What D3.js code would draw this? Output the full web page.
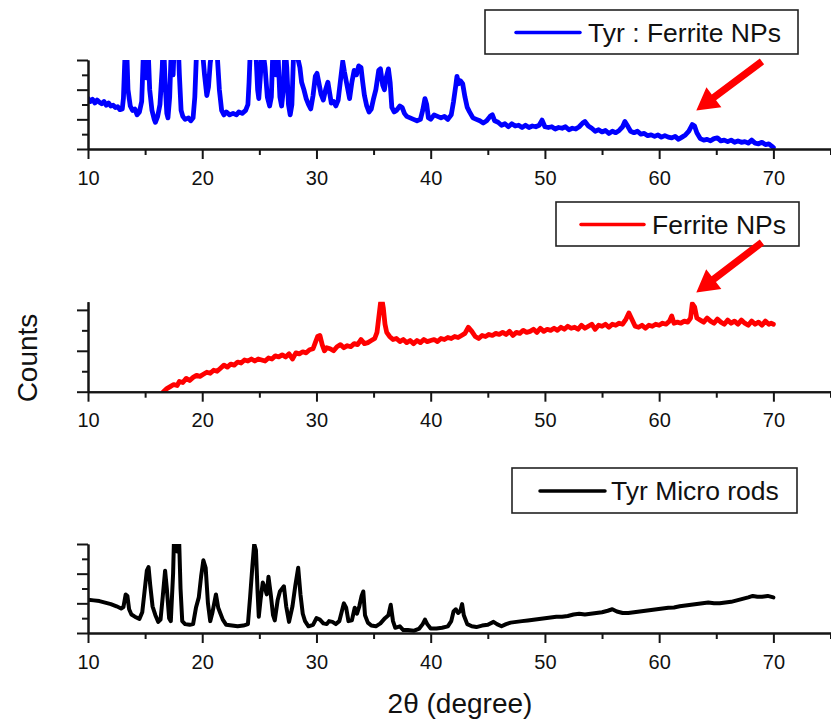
<!DOCTYPE html>
<html>
<head>
<meta charset="utf-8">
<script src="https://cdn.jsdelivr.net/npm/d3@7"></script>
<style>
  body { margin: 0; background: #fff; }
  svg { display: block; }
  text { font-family: "Liberation Sans", Arial, Helvetica, sans-serif; fill: #111; }
</style>
</head>
<body>
<svg id="chart" width="831" height="726"></svg>
<script>
// XRD patterns: [2θ (degree), counts in arbitrary units]
const tyrFerrite = [
  [10.0,3.4],[10.2,3.2],[10.4,3.35],[10.6,3.1],[10.8,3.3],[11.0,3.15],[11.2,3.05],[11.4,3.2],[11.6,2.95],[11.8,3.1],
  [12.0,2.9],[12.2,2.95],[12.4,2.8],[12.6,2.85],[12.8,2.65],[13.0,2.7],[13.1,3.4],[13.2,5.5],[13.3,7.5],[13.4,6.5],
  [13.5,4.0],[13.7,2.9],[13.9,2.6],[14.1,2.7],[14.3,2.3],[14.5,2.5],[14.7,3.2],[14.85,6.5],[15.0,5.2],[15.1,4.8],
  [15.25,7.0],[15.4,4.0],[15.6,2.6],[15.8,2.0],[15.9,1.8],[16.1,2.2],[16.3,3.0],[16.5,5.5],[16.6,7.5],[16.75,4.5],
  [16.9,2.4],[17.0,2.1],[17.15,3.5],[17.3,7.0],[17.45,5.0],[17.6,8.0],[17.8,9.0],[18.0,5.0],[18.15,2.6],[18.3,2.2],
  [18.5,2.0],[18.8,2.1],[19.0,1.9],[19.2,2.1],[19.35,3.5],[19.5,6.5],[19.8,7.0],[20.0,6.8],[20.2,5.0],[20.4,3.6],
  [20.55,4.2],[20.7,5.8],[20.9,6.8],[21.1,7.0],[21.3,6.5],[21.5,4.0],[21.7,2.6],[21.9,2.3],[22.1,2.5],[22.4,2.3],
  [22.7,2.4],[23.0,2.3],[23.2,2.5],[23.5,2.4],[23.8,2.6],[24.0,3.0],[24.1,4.5],[24.25,7.5],[24.5,8.0],[24.7,6.5],
  [24.85,4.0],[24.95,3.4],[25.1,5.0],[25.25,7.0],[25.5,5.5],[25.7,3.5],[25.9,2.9],[26.05,3.5],[26.2,7.0],[26.45,5.0],
  [26.6,7.0],[26.8,3.5],[26.95,2.9],[27.1,4.0],[27.25,7.0],[27.4,5.5],[27.55,3.0],[27.7,2.3],[27.85,3.0],[28.0,6.5],
  [28.2,8.0],[28.4,6.0],[28.55,5.5],[28.7,4.5],[28.9,4.0],[29.1,3.4],[29.3,3.0],[29.5,2.7],[29.7,3.6],[29.9,4.9],
  [30.05,5.1],[30.2,4.5],[30.4,3.7],[30.6,3.3],[30.8,4.0],[31.0,4.5],[31.15,3.8],[31.3,3.1],[31.5,3.2],[31.7,2.9],
  [31.9,3.3],[32.1,4.6],[32.3,5.9],[32.45,5.2],[32.6,4.6],[32.75,4.0],[32.9,3.4],[33.1,4.5],[33.3,5.3],[33.5,5.0],
  [33.7,5.6],[33.9,5.5],[34.05,4.5],[34.2,3.6],[34.4,2.9],[34.6,2.5],[34.8,2.7],[35.0,3.4],[35.2,4.0],[35.45,5.3],
  [35.6,5.4],[35.8,4.3],[35.95,4.0],[36.1,4.8],[36.3,5.4],[36.45,4.5],[36.6,2.8],[36.8,2.5],[37.0,2.6],[37.3,2.9],
  [37.5,2.8],[37.7,2.4],[37.9,2.2],[38.2,2.1],[38.5,2.0],[38.8,1.9],[39.1,2.0],[39.3,2.6],[39.5,3.4],[39.65,3.0],
  [39.8,2.1],[40.0,2.0],[40.3,2.3],[40.6,2.2],[40.9,2.1],[41.2,2.2],[41.5,2.0],[41.8,2.3],[42.0,3.2],[42.2,4.3],
  [42.3,4.9],[42.45,4.4],[42.6,4.6],[42.8,4.4],[43.0,3.5],[43.2,2.8],[43.4,2.5],[43.7,2.1],[44.0,2.0],[44.3,1.9],
  [44.6,1.75],[44.9,1.9],[45.2,2.2],[45.4,2.3],[45.6,1.9],[45.9,1.8],[46.2,1.6],[46.5,1.7],[46.8,1.5],[47.1,1.7],
  [47.4,1.55],[47.7,1.6],[48.0,1.45],[48.3,1.6],[48.6,1.45],[48.9,1.55],[49.2,1.5],[49.5,1.6],[49.75,1.95],[50.0,1.5],
  [50.3,1.45],[50.6,1.5],[50.9,1.35],[51.2,1.45],[51.5,1.4],[51.8,1.5],[52.1,1.3],[52.4,1.4],[52.7,1.35],[53.0,1.5],
  [53.3,1.75],[53.5,1.85],[53.8,1.55],[54.1,1.4],[54.4,1.2],[54.7,1.3],[55.0,1.15],[55.3,1.25],[55.6,1.05],[55.9,1.2],
  [56.2,1.1],[56.5,1.25],[56.8,1.5],[57.0,1.85],[57.2,1.6],[57.5,1.2],[57.8,1.1],[58.1,1.2],[58.4,1.0],[58.7,1.05],
  [59.0,0.9],[59.3,0.95],[59.6,0.85],[59.9,0.95],[60.2,0.8],[60.5,0.9],[60.8,0.8],[61.1,0.75],[61.4,0.85],[61.7,0.65],
  [62.0,0.8],[62.3,0.95],[62.6,1.2],[62.9,1.65],[63.1,1.55],[63.3,1.1],[63.6,0.7],[63.9,0.6],[64.2,0.65],[64.5,0.55],
  [64.8,0.7],[65.1,0.75],[65.4,0.55],[65.7,0.6],[66.0,0.5],[66.3,0.6],[66.6,0.45],[66.9,0.55],[67.2,0.45],[67.5,0.5],
  [67.8,0.4],[68.1,0.6],[68.4,0.4],[68.7,0.35],[69.0,0.45],[69.3,0.3],[69.6,0.35],[69.85,0.2],[70.0,0.1]
];

const ferriteNPs = [
  [16.6,0.0],[16.9,0.15],[17.2,0.25],[17.5,0.35],[17.8,0.3],[18.0,0.5],[18.3,0.45],[18.6,0.65],[18.9,0.55],[19.2,0.7],
  [19.5,0.8],[19.8,0.75],[20.1,0.85],[20.4,0.95],[20.7,0.9],[21.0,1.05],[21.3,1.0],[21.6,1.15],[21.9,1.3],[22.2,1.2],
  [22.5,1.35],[22.8,1.3],[23.1,1.45],[23.4,1.4],[23.7,1.55],[24.0,1.5],[24.3,1.6],[24.6,1.5],[24.9,1.6],[25.2,1.55],
  [25.5,1.5],[25.8,1.65],[26.1,1.6],[26.4,1.75],[26.7,1.7],[27.0,1.8],[27.3,1.7],[27.6,1.85],[27.9,1.6],[28.2,1.9],
  [28.5,1.85],[28.8,1.95],[29.1,1.9],[29.4,2.05],[29.7,2.1],[29.9,2.4],[30.1,2.7],[30.3,2.75],[30.5,2.3],[30.7,2.0],
  [30.9,2.15],[31.2,2.1],[31.5,2.0],[31.8,2.2],[32.1,2.3],[32.4,2.15],[32.7,2.25],[33.0,2.2],[33.3,2.35],[33.6,2.3],
  [33.9,2.55],[34.2,2.35],[34.5,2.4],[34.8,2.5],[35.1,2.6],[35.3,2.9],[35.45,3.6],[35.6,4.3],[35.7,4.6],[35.85,4.1],
  [36.0,3.3],[36.15,2.9],[36.4,2.7],[36.7,2.55],[37.0,2.6],[37.3,2.45],[37.6,2.55],[37.9,2.4],[38.2,2.5],[38.5,2.35],
  [38.8,2.5],[39.1,2.4],[39.4,2.55],[39.7,2.45],[40.0,2.5],[40.3,2.55],[40.6,2.45],[40.9,2.6],[41.2,2.55],[41.5,2.65],
  [41.8,2.6],[42.1,2.7],[42.4,2.65],[42.7,2.75],[43.0,2.85],[43.3,3.15],[43.6,2.95],[43.9,2.7],[44.2,2.6],[44.5,2.75],
  [44.8,2.7],[45.1,2.8],[45.4,2.75],[45.7,2.85],[46.0,2.8],[46.3,2.9],[46.6,2.8],[46.9,2.95],[47.2,2.75],[47.5,2.9],
  [47.8,2.85],[48.1,3.0],[48.4,2.9],[48.7,2.95],[49.0,3.05],[49.3,2.9],[49.6,3.1],[49.9,2.95],[50.2,3.05],[50.5,3.0],
  [50.8,3.1],[51.1,3.0],[51.4,3.15],[51.7,3.05],[52.0,3.2],[52.3,3.1],[52.6,3.15],[52.9,3.05],[53.2,3.25],[53.5,3.1],
  [53.8,3.2],[54.1,3.3],[54.4,3.05],[54.7,3.25],[55.0,3.2],[55.3,3.3],[55.6,3.15],[55.9,3.3],[56.2,3.25],[56.5,3.35],
  [56.8,3.3],[57.1,3.55],[57.35,3.85],[57.6,3.55],[57.9,3.2],[58.2,3.15],[58.5,3.25],[58.8,3.1],[59.1,3.25],[59.4,3.2],
  [59.7,3.3],[60.0,3.25],[60.3,3.35],[60.6,3.3],[60.9,3.45],[61.1,3.7],[61.3,3.35],[61.6,3.4],[61.9,3.35],[62.2,3.45],
  [62.5,3.4],[62.75,3.6],[62.9,4.3],[63.1,4.15],[63.3,3.6],[63.6,3.5],[63.9,3.4],[64.2,3.6],[64.5,3.45],[64.8,3.35],
  [65.1,3.55],[65.4,3.4],[65.7,3.3],[66.0,3.5],[66.3,3.35],[66.6,3.45],[66.9,3.3],[67.2,3.5],[67.5,3.35],[67.8,3.25],
  [68.1,3.45],[68.4,3.3],[68.7,3.4],[69.0,3.25],[69.3,3.45],[69.6,3.3],[69.8,3.35],[70.0,3.3]
];

const tyrRods = [
  [10.0,2.25],[10.5,2.2],[11.0,2.15],[11.5,2.05],[12.0,1.95],[12.5,1.8],[12.9,1.65],[13.1,1.75],[13.3,2.6],[13.45,2.5],
  [13.6,1.6],[13.8,1.25],[14.1,1.1],[14.5,0.95],[14.75,1.4],[14.95,2.8],[15.15,4.2],[15.3,4.45],[15.45,3.2],[15.65,1.8],
  [15.9,1.2],[16.15,0.75],[16.35,0.9],[16.55,2.5],[16.75,4.2],[16.9,3.0],[17.1,1.0],[17.25,0.8],[17.45,4.0],[17.55,7.0],
  [17.7,6.5],[17.8,5.5],[17.95,7.0],[18.1,3.0],[18.25,0.8],[18.5,0.6],[18.9,0.55],[19.2,0.6],[19.45,1.7],[19.7,2.4],
  [19.9,3.8],[20.1,4.9],[20.3,4.4],[20.5,2.0],[20.7,0.8],[20.9,1.4],[21.2,2.6],[21.4,1.7],[21.6,1.3],[21.8,0.9],
  [22.1,0.55],[22.6,0.5],[23.1,0.45],[23.6,0.5],[24.0,0.6],[24.2,2.5],[24.4,4.6],[24.55,6.0],[24.7,5.6],[24.85,2.7],
  [24.95,1.1],[25.1,2.2],[25.3,3.4],[25.5,3.0],[25.65,2.6],[25.8,3.8],[26.0,2.6],[26.2,1.2],[26.35,0.85],[26.6,2.2],
  [26.8,2.8],[27.0,3.0],[27.15,3.15],[27.35,1.8],[27.6,0.75],[27.9,1.8],[28.15,3.2],[28.4,4.4],[28.6,2.6],[28.8,1.3],
  [29.0,0.8],[29.3,0.45],[29.7,0.55],[30.0,1.0],[30.3,0.9],[30.6,0.65],[30.9,0.6],[31.1,0.8],[31.4,0.75],[31.7,0.6],
  [32.0,0.8],[32.2,1.4],[32.4,2.0],[32.6,1.7],[32.8,0.8],[33.1,0.85],[33.35,1.7],[33.55,1.3],[33.75,1.8],[33.95,2.5],
  [34.1,2.8],[34.25,1.2],[34.5,0.7],[34.8,0.5],[35.2,0.45],[35.6,0.65],[36.0,1.0],[36.3,1.2],[36.5,1.9],[36.7,0.8],
  [36.9,0.35],[37.3,0.45],[37.6,0.2],[38.0,0.2],[38.5,0.15],[39.0,0.3],[39.3,0.6],[39.5,0.9],[39.7,0.6],[40.0,0.3],
  [40.5,0.3],[41.0,0.35],[41.5,0.45],[41.8,0.8],[42.0,1.45],[42.2,1.6],[42.4,1.35],[42.6,1.5],[42.75,1.95],[42.9,1.2],
  [43.2,0.6],[43.6,0.45],[44.0,0.4],[44.5,0.5],[45.0,0.55],[45.5,0.75],[45.8,0.6],[46.2,0.45],[46.6,0.6],[47.0,0.7],
  [47.5,0.75],[48.0,0.8],[48.5,0.85],[49.0,0.9],[49.5,0.95],[50.0,1.0],[50.5,1.05],[51.0,1.1],[51.5,1.1],[52.0,1.15],
  [52.5,1.25],[53.0,1.3],[53.5,1.25],[54.0,1.3],[54.5,1.35],[55.0,1.4],[55.5,1.5],[55.9,1.6],[56.3,1.45],[56.8,1.35],
  [57.3,1.35],[57.8,1.4],[58.3,1.45],[58.8,1.5],[59.3,1.55],[59.8,1.6],[60.3,1.65],[60.8,1.7],[61.3,1.72],[61.8,1.8],
  [62.3,1.85],[62.8,1.9],[63.3,1.95],[63.8,2.0],[64.3,2.05],[64.8,2.0],[65.3,2.0],[65.8,2.05],[66.3,2.1],[66.8,2.2],
  [67.3,2.3],[67.8,2.4],[68.2,2.5],[68.6,2.45],[69.0,2.45],[69.5,2.5],[70.0,2.4]
];

const seriesData   = [tyrFerrite, ferriteNPs, tyrRods];
const seriesNames  = ["Tyr : Ferrite NPs", "Ferrite NPs", "Tyr Micro rods"];
const seriesColors = ["#0000ff", "#ff0000", "#000000"];

const xDomain      = [10, 75];
const xMajorTicks  = [10, 20, 30, 40, 50, 60, 70];
const xMinorTicks  = [15, 25, 35, 45, 55, 65, 75];
const yDomains     = [[0, 6], [0, 4.4], [0, 6]];
const yTickValues  = [[0, 1, 2, 3, 4, 5, 6], [0, 1, 2, 3, 4], [0, 1, 2, 3, 4, 5, 6]];

// arrows marking the ferrite reflection near 63°, in data coordinates
const arrowMarks = [
  { panel: 0, tip: [63.25, 2.6],  tail: [69.0, 5.9] },
  { panel: 1, tip: [63.25, 4.85], tail: [69.0, 7.3] }
];

// ---- layout ----
const panelBoxes = [
  { top: 60,    bottom: 149 },
  { top: 301.7, bottom: 391.7 },
  { top: 544,   bottom: 633 }
];
const traceWidths = [4.8, 4.8, 4.0];
const legendBoxes = [
  { x: 485, y: 10,  w: 313, h: 44, lx1: 516, lx2: 580, tx: 588 },
  { x: 556, y: 202, w: 243, h: 44, lx1: 581, lx2: 644, tx: 652 },
  { x: 512, y: 468, w: 285, h: 45, lx1: 540, lx2: 605, tx: 611 }
];
const axisColor = "#151515";

const svg = d3.select("#chart");
const x = d3.scaleLinear().domain(xDomain).range([88, 830.5]);

const defs = svg.append("defs");

panelBoxes.forEach((box, i) => {
  const y = d3.scaleLinear().domain(yDomains[i]).range([box.bottom, box.top]);
  const g = svg.append("g").attr("class", "panel-" + i);

  // clip the trace to the plotting window
  const clipId = "clip-" + i;
  defs.append("clipPath").attr("id", clipId)
    .append("rect")
    .attr("x", x(xDomain[0])).attr("y", box.top)
    .attr("width", x(xDomain[1]) - x(xDomain[0]) + 2)
    .attr("height", box.bottom - box.top + 1);

  const line = d3.line().x(d => x(d[0])).y(d => y(d[1]));
  g.append("path")
    .datum(seriesData[i])
    .attr("clip-path", `url(#${clipId})`)
    .attr("fill", "none")
    .attr("stroke", seriesColors[i])
    .attr("stroke-width", traceWidths[i])
    .attr("stroke-linejoin", "round")
    .attr("stroke-linecap", "round")
    .attr("d", line);

  // x axis: labelled major ticks + short minor ticks
  const xMinor = g.append("g").attr("transform", `translate(0,${box.bottom})`)
    .call(d3.axisBottom(x).tickValues(xMinorTicks).tickSize(6).tickSizeOuter(0).tickFormat(""));
  const xMajor = g.append("g").attr("transform", `translate(0,${box.bottom})`)
    .call(d3.axisBottom(x).tickValues(xMajorTicks).tickSize(10).tickSizeOuter(0).tickPadding(11.5).tickFormat(d3.format("d")));
  [xMinor, xMajor].forEach(a => {
    a.select(".domain").attr("stroke", axisColor).attr("stroke-width", 2);
    a.selectAll(".tick line").attr("stroke", axisColor).attr("stroke-width", 2);
  });
  xMajor.selectAll(".tick text")
    .attr("font-size", 20)
    .attr("font-family", "'Liberation Sans', Arial, sans-serif")
    .attr("fill", "#111");

  // y axis: unlabelled, long ticks on even values
  const yMajorVals = yTickValues[i].filter(v => v % 2 === 0);
  const yMinorVals = yTickValues[i].filter(v => v % 2 === 1);
  const yMinor = g.append("g").attr("transform", `translate(${x(xDomain[0])},0)`)
    .call(d3.axisLeft(y).tickValues(yMinorVals).tickSize(6).tickSizeOuter(0).tickFormat(""));
  const yMajor = g.append("g").attr("transform", `translate(${x(xDomain[0])},0)`)
    .call(d3.axisLeft(y).tickValues(yMajorVals).tickSize(11).tickSizeOuter(0).tickFormat(""));
  [yMinor, yMajor].forEach(a => {
    a.select(".domain").attr("stroke", axisColor).attr("stroke-width", 2);
    a.selectAll(".tick line").attr("stroke", axisColor).attr("stroke-width", 2);
  });

  // legend
  const lb = legendBoxes[i];
  const lg = g.append("g").attr("class", "legend");
  lg.append("rect")
    .attr("x", lb.x).attr("y", lb.y).attr("width", lb.w).attr("height", lb.h)
    .attr("fill", "#fff").attr("stroke", "#222").attr("stroke-width", 1.6);
  lg.append("line")
    .attr("x1", lb.lx1).attr("x2", lb.lx2)
    .attr("y1", lb.y + lb.h / 2 + 0.5).attr("y2", lb.y + lb.h / 2 + 0.5)
    .attr("stroke", seriesColors[i]).attr("stroke-width", 3.5).attr("stroke-linecap", "round");
  lg.append("text")
    .attr("x", lb.tx).attr("y", lb.y + lb.h / 2 + 9.5)
    .attr("font-size", 26.5)
    .text(seriesNames[i]);

  // arrow annotations
  arrowMarks.filter(a => a.panel === i).forEach(a => {
    const tx = x(a.tip[0]), ty = y(a.tip[1]);
    const sx = x(a.tail[0]), sy = y(a.tail[1]);
    const len = Math.hypot(tx - sx, ty - sy);
    const ux = (tx - sx) / len, uy = (ty - sy) / len;
    const nx = -uy, ny = ux;
    const shaft = 3.6, head = 12.5, headLen = 22;
    const bx = tx - ux * headLen, by = ty - uy * headLen;
    const pts = [
      [sx + nx * shaft, sy + ny * shaft],
      [bx + nx * shaft, by + ny * shaft],
      [bx + nx * head,  by + ny * head],
      [tx, ty],
      [bx - nx * head,  by - ny * head],
      [bx - nx * shaft, by - ny * shaft],
      [sx - nx * shaft, sy - ny * shaft]
    ];
    g.append("polygon")
      .attr("points", pts.map(p => p.join(",")).join(" "))
      .attr("fill", "#ff0000");
  });
});

// axis titles
svg.append("text")
  .attr("x", 460).attr("y", 713)
  .attr("text-anchor", "middle")
  .attr("font-size", 28)
  .text("2θ (degree)");

svg.append("text")
  .attr("transform", "translate(37,358) rotate(-90)")
  .attr("text-anchor", "middle")
  .attr("font-size", 28)
  .text("Counts");
</script>
</body>
</html>
